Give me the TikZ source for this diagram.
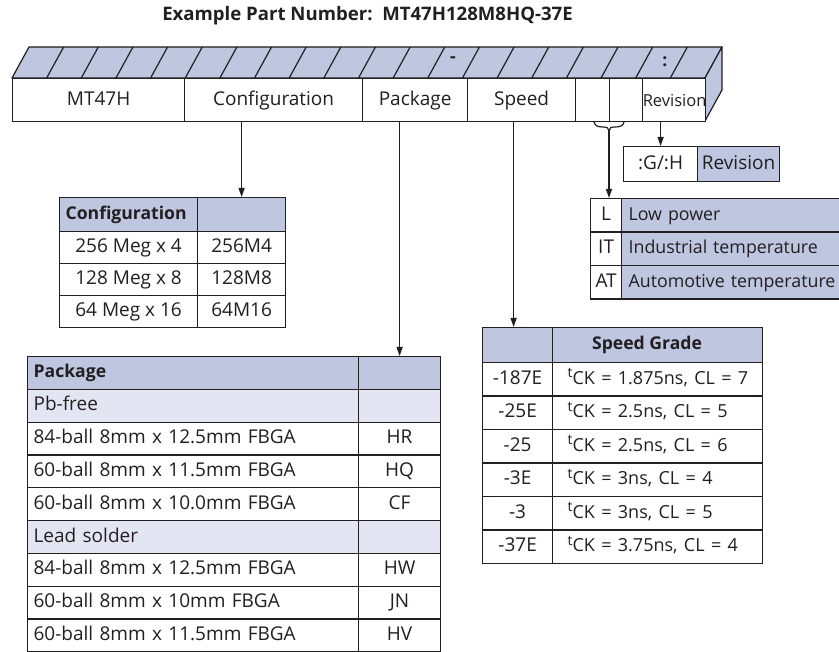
\documentclass[tikz,border=0pt]{standalone}
\usepackage{fontspec}
\setmainfont{Open Sans}
\usetikzlibrary{arrows.meta}
\definecolor{hb}{RGB}{190,198,224}
\definecolor{lb}{RGB}{227,230,242}
\definecolor{ln}{RGB}{35,31,32}
\newcommand\fs{\fontsize{19}{22}\selectfont}
\newcommand\fm{\fontsize{17.8}{21}\selectfont}
\newcommand\fb{\fontsize{17.6}{21}\selectfont\bfseries}
\newcommand\tck[1]{\mbox{\fontsize{18}{21}\selectfont\raisebox{6.5pt}{\fontsize{14}{14}\selectfont t}CK = #1}}
\begin{document}
\begin{tikzpicture}[x=1pt,y=-1pt,
  every node/.style={font=\fs, text=ln},
  cell/.style={draw=ln, line width=1.2pt, fill=white, inner sep=0pt, anchor=north west, text height=14pt, text depth=4pt},
  lcell/.style={cell, align=left, inner xsep=#1},
  hdr/.style={fill=hb},
  sub/.style={fill=lb},
  face/.style={draw=ln, fill=hb, line width=1.2pt, line join=round},
  arr/.style={draw=ln, line width=1.2pt, -{Triangle[length=9pt,width=6pt]}}]
\useasboundingbox (0,0) rectangle (839,652);
\clip (0,0) rectangle (839,652);

% title
\node[font=\fontsize{18.6}{21}\selectfont\bfseries] (title) at (367.5,16) {Example Part Number:\ \ MT47H128M8HQ-37E};

% 3D part-number bar
\filldraw[face] (12,78) -- (29,47) -- (722,47) -- (705,78) -- cycle;
\filldraw[face] (705,78) -- (722,47) -- (722,90) -- (705,121) -- cycle;
\foreach \k in {1,...,19} \draw[draw=ln, line width=1.2pt] ({12+34.65*\k},78) -- ++(17,-31);
\node[inner sep=0pt, font=\fb] (dash) at (453,60) {-};
\node[inner sep=0pt, font=\fb] (colon) at (665,62) {:};

\node[cell, minimum width=172, minimum height=43] (c1) at (12,78) {MT47H};
\node[cell, minimum width=178, minimum height=43] (c2) at (184,78) {Configuration};
\node[cell, minimum width=105, minimum height=43] (c3) at (362,78) {Package};
\node[cell, minimum width=108, minimum height=43] (c4) at (467,78) {Speed};
\node[cell, minimum width=34, minimum height=43] (c5) at (575,78) {};
\node[cell, minimum width=33, minimum height=43] (c6) at (609,78) {};
\node[cell, minimum width=63, minimum height=43] (c7) at (642,78) {};
\node[inner sep=0pt, font=\fontsize{16.5}{18}\selectfont] (c7t) at ([xshift=0.5pt,yshift=-0.5pt]c7.center) {Revision};

% brace under the two small cells
\draw[draw=ln, line width=1.2pt] (594,122) .. controls (595,126) and (598,127) .. (603,127)
  .. controls (607,127) and (609,128) .. (609,131)
  .. controls (609,128) and (611,127) .. (615,127)
  .. controls (620,127) and (623,126) .. (624,122);
\coordinate (bt) at (609,131);

% revision box
\node[cell, minimum width=74, minimum height=35] (rv1) at (623,146) {:G/:H};
\node[cell, hdr, minimum width=82, minimum height=35] (rv2) at (697,146) {Revision};

% L / IT / AT table
\node[cell, minimum width=31, minimum height=33.5] (lt1a) at (590,198) {L};
\node[lcell=7, hdr, text width=215, minimum height=33.5, font=\fm] (lt1b) at (621,198) {\mbox{Low power}};
\node[cell, minimum width=31, minimum height=33.5] (lt2a) at (590,231.5) {IT};
\node[lcell=7, hdr, text width=215, minimum height=33.5, font=\fm] (lt2b) at (621,231.5) {\mbox{Industrial temperature}};
\node[cell, minimum width=31, minimum height=33.5] (lt3a) at (590,265) {AT};
\node[lcell=7, hdr, text width=215, minimum height=33.5, font=\fm] (lt3b) at (621,265) {\mbox{Automotive temperature}};

% configuration table
\node[lcell=6, hdr, text width=126, minimum height=34, font=\fb] (cf0a) at (59,197) {\mbox{Configuration}};
\node[cell, hdr, minimum width=88, minimum height=34] (cf0b) at (197,197) {};
\node[cell, minimum width=138, minimum height=32] (cf1a) at (59,231) {256 Meg x 4};
\node[cell, minimum width=88, minimum height=32] (cf1b) at (197,231) {256M4};
\node[cell, minimum width=138, minimum height=32] (cf2a) at (59,263) {128 Meg x 8};
\node[cell, minimum width=88, minimum height=32] (cf2b) at (197,263) {128M8};
\node[cell, minimum width=138, minimum height=32] (cf3a) at (59,295) {64 Meg x 16};
\node[cell, minimum width=88, minimum height=32] (cf3b) at (197,295) {64M16};

% package table
\node[lcell=6, hdr, text width=319, minimum height=32.8, font=\fb] (pk0a) at (27,356) {Package};
\node[cell, hdr, minimum width=82, minimum height=32.8] (pk0b) at (358,356) {};
\node[lcell=6, sub, text width=319, minimum height=32.8] (pk1a) at (27,388.8) {Pb-free};
\node[cell, sub, minimum width=82, minimum height=32.8] (pk1b) at (358,388.8) {};
\node[lcell=6, text width=319, minimum height=32.8] (pk2a) at (27,421.6) {84-ball 8mm x 12.5mm FBGA};
\node[cell, minimum width=82, minimum height=32.8] (pk2b) at (358,421.6) {HR};
\node[lcell=6, text width=319, minimum height=32.8] (pk3a) at (27,454.4) {60-ball 8mm x 11.5mm FBGA};
\node[cell, minimum width=82, minimum height=32.8] (pk3b) at (358,454.4) {HQ};
\node[lcell=6, text width=319, minimum height=32.8] (pk4a) at (27,487.2) {60-ball 8mm x 10.0mm FBGA};
\node[cell, minimum width=82, minimum height=32.8] (pk4b) at (358,487.2) {CF};
\node[lcell=6, sub, text width=319, minimum height=32.8] (pk5a) at (27,520) {Lead solder};
\node[cell, sub, minimum width=82, minimum height=32.8] (pk5b) at (358,520) {};
\node[lcell=6, text width=319, minimum height=32.8] (pk6a) at (27,552.8) {84-ball 8mm x 12.5mm FBGA};
\node[cell, minimum width=82, minimum height=32.8] (pk6b) at (358,552.8) {HW};
\node[lcell=6, text width=319, minimum height=32.8] (pk7a) at (27,585.6) {60-ball 8mm x 10mm FBGA};
\node[cell, minimum width=82, minimum height=32.8] (pk7b) at (358,585.6) {JN};
\node[lcell=6, text width=319, minimum height=32.8] (pk8a) at (27,618.4) {60-ball 8mm x 11.5mm FBGA};
\node[cell, minimum width=82, minimum height=32.8] (pk8b) at (358,618.4) {HV};

% speed grade table
\node[cell, hdr, minimum width=70, minimum height=35] (sp0a) at (482,327) {};
\node[cell, hdr, minimum width=210, minimum height=35] (sp0b) at (552,327) {};
\node[inner sep=0pt, font=\fb] (sp0t) at (647,344.5) {Speed Grade};
\node[cell, minimum width=70, minimum height=33.5] (sp1a) at (482,362) {-187E};
\node[lcell=15, text width=180, minimum height=33.5] (sp1b) at (552,362) {\tck{1.875ns, CL = 7}};
\node[cell, minimum width=70, minimum height=33.5] (sp2a) at (482,395.5) {-25E};
\node[lcell=15, text width=180, minimum height=33.5] (sp2b) at (552,395.5) {\tck{2.5ns, CL = 5}};
\node[cell, minimum width=70, minimum height=33.5] (sp3a) at (482,429) {-25};
\node[lcell=15, text width=180, minimum height=33.5] (sp3b) at (552,429) {\tck{2.5ns, CL = 6}};
\node[cell, minimum width=70, minimum height=33.5] (sp4a) at (482,462.5) {-3E};
\node[lcell=15, text width=180, minimum height=33.5] (sp4b) at (552,462.5) {\tck{3ns, CL = 4}};
\node[cell, minimum width=70, minimum height=33.5] (sp5a) at (482,496) {-3};
\node[lcell=15, text width=180, minimum height=33.5] (sp5b) at (552,496) {\tck{3ns, CL = 5}};
\node[cell, minimum width=70, minimum height=33.5] (sp6a) at (482,529.5) {-37E};
\node[lcell=15, text width=180, minimum height=33.5] (sp6b) at (552,529.5) {\tck{3.75ns, CL = 4}};

% connectors
\draw[arr] (cf0b.north |- c2.south) -- (cf0b.north);
\draw[arr] (pk0b.north |- c3.south) -- (pk0b.north);
\draw[arr] ([xshift=-4pt]sp0a.north |- c4.south) -- ([xshift=-4pt]sp0a.north);
\draw[arr] (bt) -- (bt |- lt1a.north);
\draw[arr] (rv1.north |- c7.south) -- (rv1.north);
\end{tikzpicture}
\end{document}
